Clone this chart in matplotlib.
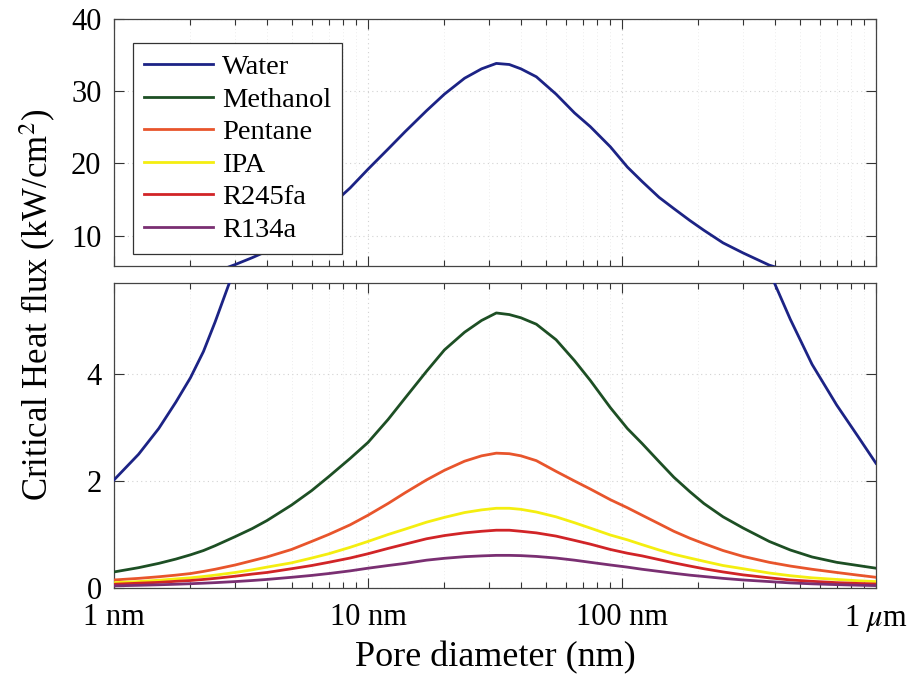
import matplotlib
matplotlib.use("Agg")
import matplotlib.pyplot as plt
from matplotlib.ticker import FixedLocator, LogLocator, NullFormatter

plt.rcParams["font.family"] = ["Liberation Serif", "DejaVu Serif"]
plt.rcParams["mathtext.fontset"] = "stix"

# Pore diameter samples (nm)
diameter_nm = [1, 1.25, 1.5, 1.75, 2, 2.25, 2.5, 3, 3.5, 4, 5, 6, 7, 8.5, 10, 12,
               14, 17, 20, 24, 28, 32, 36, 40, 46, 55, 65, 75, 90, 105, 120, 140,
               160, 185, 210, 250, 300, 380, 460, 560, 700, 850, 1000]

# Critical heat flux (kW/cm^2) for each working fluid
chf_water = [2.02, 2.5, 2.98, 3.47, 3.93, 4.42, 4.97, 6.0, 6.95, 7.85, 9.9, 12.0,
             13.9, 16.6, 19.2, 22.0, 24.4, 27.3, 29.6, 31.8, 33.1, 33.85, 33.7,
             33.1, 32.0, 29.6, 27.0, 25.1, 22.3, 19.5, 17.5, 15.3, 13.75, 12.1,
             10.75, 9.0, 7.6, 5.92, 5.02, 4.18, 3.42, 2.83, 2.33]
chf_methanol = [0.30, 0.38, 0.46, 0.54, 0.62, 0.70, 0.79, 0.96, 1.11, 1.26, 1.55,
                1.82, 2.08, 2.42, 2.72, 3.15, 3.55, 4.05, 4.45, 4.78, 5.0, 5.14,
                5.11, 5.05, 4.93, 4.64, 4.25, 3.88, 3.37, 2.98, 2.7, 2.36, 2.07,
                1.8, 1.58, 1.33, 1.12, 0.87, 0.71, 0.58, 0.48, 0.42, 0.37]
chf_pentane = [0.15, 0.18, 0.21, 0.24, 0.27, 0.31, 0.35, 0.43, 0.51, 0.58, 0.72,
               0.87, 1.0, 1.18, 1.36, 1.58, 1.78, 2.02, 2.2, 2.37, 2.47, 2.52,
               2.51, 2.47, 2.38, 2.18, 2.0, 1.85, 1.65, 1.5, 1.36, 1.2, 1.06,
               0.93, 0.83, 0.7, 0.59, 0.48, 0.41, 0.35, 0.29, 0.24, 0.2]
chf_ipa = [0.10, 0.12, 0.145, 0.17, 0.19, 0.215, 0.24, 0.29, 0.34, 0.39, 0.47,
           0.56, 0.64, 0.76, 0.87, 1.0, 1.1, 1.23, 1.32, 1.41, 1.46, 1.49, 1.49,
           1.47, 1.42, 1.33, 1.22, 1.12, 0.99, 0.9, 0.81, 0.71, 0.63, 0.56,
           0.5, 0.42, 0.36, 0.28, 0.23, 0.19, 0.16, 0.135, 0.12]
chf_r245fa = [0.07, 0.09, 0.105, 0.125, 0.14, 0.16, 0.18, 0.22, 0.26, 0.29, 0.36,
              0.42, 0.48, 0.56, 0.64, 0.74, 0.82, 0.92, 0.98, 1.03, 1.06, 1.08,
              1.08, 1.06, 1.03, 0.97, 0.89, 0.82, 0.72, 0.65, 0.6, 0.53, 0.47,
              0.41, 0.36, 0.3, 0.245, 0.19, 0.15, 0.125, 0.1, 0.085, 0.075]
chf_r134a = [0.04, 0.05, 0.06, 0.07, 0.08, 0.09, 0.10, 0.12, 0.14, 0.16, 0.20,
             0.235, 0.27, 0.32, 0.37, 0.42, 0.46, 0.52, 0.555, 0.585, 0.6, 0.61,
             0.61, 0.605, 0.59, 0.56, 0.52, 0.48, 0.43, 0.39, 0.35, 0.31, 0.275,
             0.24, 0.215, 0.18, 0.15, 0.12, 0.095, 0.078, 0.063, 0.052, 0.045]

fluids = ["Water", "Methanol", "Pentane", "IPA", "R245fa", "R134a"]
series = [chf_water, chf_methanol, chf_pentane, chf_ipa, chf_r245fa, chf_r134a]
colors = ["#1c2385", "#1d4f24", "#e8552c", "#f4ee10", "#d12427", "#7a2f72"]

x_ticks = [1, 10, 100, 1000]
x_ticklabels = ["1 nm", "10 nm", "100 nm", r"1 $\mu$m"]
top_yticks = [10, 20, 30, 40]
bottom_yticks = [0, 2, 4]

W, H = 914, 679
fig = plt.figure(figsize=(W / 100, H / 100), dpi=100)
ax_top = fig.add_axes([114 / W, 1 - 266 / H, 762 / W, 247 / H])
ax_bot = fig.add_axes([114 / W, 1 - 588 / H, 762 / W, 305 / H])

for ax in (ax_top, ax_bot):
    for name, vals, c in zip(fluids, series, colors):
        ax.plot(diameter_nm, vals, color=c, lw=2.0, label=name, zorder=3,
                solid_joinstyle="round")
    ax.set_xscale("log")
    ax.set_xlim(1, 1000)
    ax.xaxis.set_major_locator(FixedLocator(x_ticks))
    ax.xaxis.set_minor_locator(LogLocator(base=10, subs=range(2, 10)))
    ax.xaxis.set_minor_formatter(NullFormatter())
    ax.tick_params(which="both", direction="in", top=True, right=True,
                   color="#333333", labelsize=22, width=0.8)
    ax.tick_params(which="major", length=7)
    ax.tick_params(which="minor", length=4)
    ax.tick_params(axis="x", pad=11)
    ax.tick_params(axis="y", pad=9)
    for sp in ax.spines.values():
        sp.set_color("#444444")
        sp.set_linewidth(0.9)
    ax.grid(True, which="major", color="#d2d2d2", linestyle=(0, (1, 3)), lw=0.8)
    ax.grid(True, which="minor", axis="x", color="#e6e6e6", linestyle=(0, (1, 3)), lw=0.6)
    ax.set_axisbelow(True)

ax_top.set_ylim(5.8, 40)
ax_top.set_yticks(top_yticks)
ax_top.set_xticklabels([])

ax_bot.set_ylim(0, 5.7)
ax_bot.set_yticks(bottom_yticks)
ax_bot.set_xticklabels(x_ticklabels)
ax_bot.set_xlabel("Pore diameter (nm)", fontsize=26, labelpad=5)

fig.text(38 / W, 1 - 305 / H, r"Critical Heat flux (kW/cm$^2$)", rotation=90,
         fontsize=25, ha="center", va="center")

leg = ax_top.legend(loc="upper left", bbox_to_anchor=(0.025, 0.903),
                    borderaxespad=0, fontsize=20.5, fancybox=False,
                    edgecolor="#333333", framealpha=1, handlelength=2.4,
                    labelspacing=0.23, borderpad=0.4, handletextpad=0.32)
leg.get_frame().set_linewidth(0.9)

fig.savefig("out.png", dpi=100)
